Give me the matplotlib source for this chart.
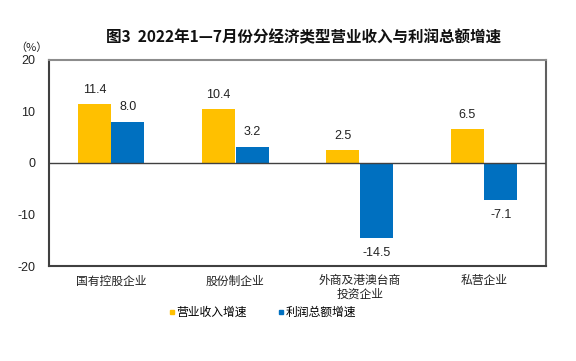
import matplotlib
matplotlib.use("Agg")
import matplotlib.pyplot as plt
from matplotlib.lines import Line2D
import numpy as np

plt.rcParams['font.family'] = ['Noto Sans CJK SC', 'DejaVu Sans']

categories = ["国有控股企业", "股份制企业", "外商及港澳台商\n投资企业", "私营企业"]
revenue = [11.4, 10.4, 2.5, 6.5]
profit = [8.0, 3.2, -14.5, -7.1]
series_names = ["营业收入增速", "利润总额增速"]
yticks = [-20, -10, 0, 10, 20]
title = "图3  2022年1—7月份分经济类型营业收入与利润总额增速"

c_rev = "#FFC000"
c_pro = "#0070C0"

fig = plt.figure(figsize=(5.76, 3.61), dpi=100)
ax = fig.add_axes([0.0851, 0.263, 0.863, 0.571])

x = np.arange(len(categories))
w = 0.265
off = 0.135
ax.bar(x - off, revenue, w, color=c_rev, zorder=2)
ax.bar(x + off, profit, w, color=c_pro, zorder=2)

num_font = dict(family=['Liberation Sans', 'DejaVu Sans'], fontsize=9, color='#222222')
for xi, v in zip(x - off, revenue):
    ax.annotate(f"{v:.1f}", (xi, v), xytext=(0, 6 if v >= 0 else -7),
                textcoords='offset points', ha='center',
                va='bottom' if v >= 0 else 'top', **num_font)
for xi, v in zip(x + off, profit):
    ax.annotate(f"{v:.1f}", (xi, v), xytext=(0, 6 if v >= 0 else -7),
                textcoords='offset points', ha='center',
                va='bottom' if v >= 0 else 'top', **num_font)

ax.axhline(0, color='#404040', lw=1.0, zorder=3)
ax.set_xlim(-0.5, 3.5)
ax.set_ylim(-20, 20)
ax.set_yticks(yticks)
ax.set_yticklabels([str(t) for t in yticks], family=['Liberation Sans', 'DejaVu Sans'], fontsize=9)
ax.tick_params(axis='y', length=0, pad=10, colors='#222222')
ax.set_xticks(x)
ax.set_xticklabels(categories, fontsize=8.5, linespacing=1.0)
ax.tick_params(axis='x', length=0, pad=6, colors='#222222')

ax.spines['left'].set_color('#404040')
ax.spines['bottom'].set_color('#404040')
ax.spines['top'].set_color('#8c8c8c')
ax.spines['right'].set_color('#606060')
for s in ax.spines.values():
    s.set_linewidth(1.5)

fig.text(0.527, 0.897, title, ha='center', va='center', fontsize=11.2, fontweight='bold', color='#111111')
fig.text(0.054, 0.868, "（%）", ha='center', va='center', fontsize=8, color='#222222')

handles = [Line2D([], [], marker='s', ls='none', color=c_rev, markersize=3.5),
           Line2D([], [], marker='s', ls='none', color=c_pro, markersize=3.5)]
fig.legend(handles, series_names, loc='center', bbox_to_anchor=(0.455, 0.134), ncol=2,
           frameon=False, fontsize=8.5, handlelength=0.6, handletextpad=0.1, columnspacing=2.6)

fig.savefig("out.png", dpi=100, facecolor='white')
